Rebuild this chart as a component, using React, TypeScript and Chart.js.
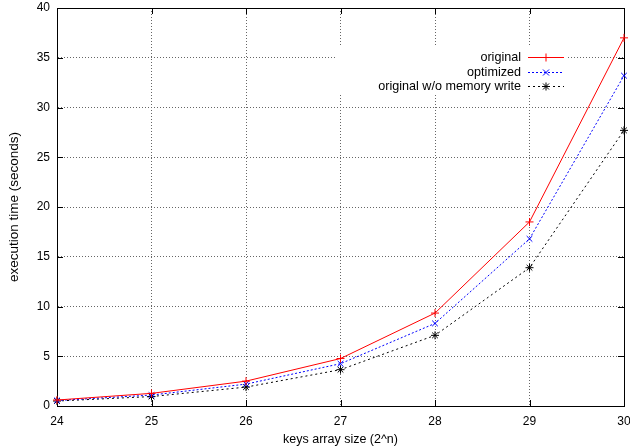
import React, { useEffect, useRef } from "react";
import { Chart, registerables } from "chart.js";

Chart.register(...registerables);

const xValues = [24, 25, 26, 27, 28, 29, 30];
const original = [0.6, 1.27, 2.5, 4.77, 9.34, 18.5, 37.0];
const optimized = [0.55, 1.1, 2.2, 4.25, 8.3, 16.8, 33.2];
const noWrite = [0.5, 0.95, 1.9, 3.65, 7.1, 13.9, 27.7];
const seriesNames = ["original", "optimized", "original w/o memory write"];
const xTicks = [24, 25, 26, 27, 28, 29, 30];
const yTicks = [0, 5, 10, 15, 20, 25, 30, 35, 40];

const FONT = "'Liberation Sans', Arial, sans-serif";

const styles = [
  { color: "#ff0000", dash: [] as number[], point: "cross" },
  { color: "#0000ff", dash: [2, 2], point: "crossRot" },
  { color: "#000000", dash: [2, 3], point: "star" },
];

const gnuplotPlugin = {
  id: "gnuplotDecor",
  beforeDatasetsDraw(chart: any) {
    const { ctx, chartArea: a, scales } = chart;
    const xs = scales.x;
    const ys = scales.y;
    ctx.save();
    // legend background
    ctx.fillStyle = "#fff";
    ctx.fillRect(335, 47, 233, 48);
    ctx.strokeStyle = "#000";
    ctx.lineWidth = 1;
    ctx.setLineDash([]);
    // box
    ctx.strokeRect(Math.round(a.left) + 0.5, Math.round(a.top) + 0.5, Math.round(a.right - a.left), Math.round(a.bottom - a.top));
    const L = 6;
    for (const t of xTicks) {
      const px = Math.round(xs.getPixelForValue(t)) + 0.5;
      ctx.beginPath();
      ctx.moveTo(px, a.bottom);
      ctx.lineTo(px, a.bottom - L);
      ctx.moveTo(px, a.top);
      ctx.lineTo(px, a.top + L);
      ctx.stroke();
    }
    for (const t of yTicks) {
      const py = Math.round(ys.getPixelForValue(t)) + 0.5;
      ctx.beginPath();
      ctx.moveTo(a.left, py);
      ctx.lineTo(a.left + L, py);
      ctx.moveTo(a.right, py);
      ctx.lineTo(a.right - L, py);
      ctx.stroke();
    }
    ctx.restore();
  },
  afterDatasetsDraw(chart: any) {
    const { ctx } = chart;
    ctx.save();
    ctx.font = "12.6px " + FONT;
    ctx.textAlign = "right";
    ctx.textBaseline = "middle";
    const rows = [57, 72, 86];
    seriesNames.forEach((name, i) => {
      const y = rows[i] + 0.5;
      const s = styles[i];
      ctx.fillStyle = "#000";
      ctx.fillText(name, 521, y);
      ctx.strokeStyle = s.color;
      ctx.lineWidth = 1;
      ctx.setLineDash(s.dash);
      ctx.beginPath();
      ctx.moveTo(528, y);
      ctx.lineTo(564, y);
      ctx.stroke();
      ctx.setLineDash([]);
      const cx = 546;
      const r = 4;
      ctx.beginPath();
      if (s.point === "cross" || s.point === "star") {
        ctx.moveTo(cx - r, y);
        ctx.lineTo(cx + r, y);
        ctx.moveTo(cx, y - r);
        ctx.lineTo(cx, y + r);
      }
      if (s.point === "crossRot" || s.point === "star") {
        const d = r * 0.75;
        ctx.moveTo(cx - d, y - d);
        ctx.lineTo(cx + d, y + d);
        ctx.moveTo(cx - d, y + d);
        ctx.lineTo(cx + d, y - d);
      }
      ctx.stroke();
    });
    ctx.restore();
  },
};

const noPad = (s: any) => {
  s.paddingTop = 0;
  s.paddingBottom = 0;
  s.paddingLeft = 0;
  s.paddingRight = 0;
};

export default function App() {
  const ref = useRef<HTMLCanvasElement>(null);
  useEffect(() => {
    document.body.style.margin = "0";
    const sets = [original, optimized, noWrite].map((vals, i) => ({
      label: seriesNames[i],
      data: xValues.map((x, j) => ({ x, y: vals[j] })),
      borderColor: styles[i].color,
      backgroundColor: styles[i].color,
      borderWidth: 1,
      borderDash: styles[i].dash,
      pointStyle: styles[i].point,
      pointRadius: 4,
      pointBorderWidth: 1,
      pointBorderColor: styles[i].color,
      tension: 0,
      fill: false,
      clip: false as any,
    }));
    const chart = new Chart(ref.current!, {
      type: "line",
      data: { datasets: sets as any },
      plugins: [gnuplotPlugin],
      options: {
        animation: false,
        responsive: false,
        maintainAspectRatio: false,
        layout: { padding: { top: 8, right: 6, left: 0, bottom: 0 } },
        plugins: { legend: { display: false }, tooltip: { enabled: false } },
        scales: {
          x: {
            type: "linear",
            min: 24,
            max: 30,
            afterBuildTicks: (s: any) => {
              s.ticks = xTicks.map((v) => ({ value: v }));
            },
            afterFit: (s: any) => {
              s.height = 41;
              noPad(s);
            },
            ticks: {
              color: "#000",
              font: { family: FONT, size: 12 },
              padding: 8,
              maxRotation: 0,
            },
            grid: {
              color: "#666",
              tickLength: 0,
              drawTicks: false,
            },
            border: { display: true, color: "#000", width: 1, dash: [1, 2] },
            title: {
              display: true,
              text: "keys array size (2^n)",
              color: "#000",
              font: { family: FONT, size: 12.5 },
              padding: { top: 4, bottom: 0 },
            },
          },
          y: {
            type: "linear",
            min: 0,
            max: 40,
            afterBuildTicks: (s: any) => {
              s.ticks = yTicks.map((v) => ({ value: v }));
            },
            afterFit: (s: any) => {
              s.width = 57;
              noPad(s);
            },
            ticks: {
              color: "#000",
              font: { family: FONT, size: 12 },
              padding: 7,
            },
            grid: {
              color: "#666",
              tickLength: 0,
              drawTicks: false,
            },
            border: { display: true, color: "#000", width: 1, dash: [1, 2] },
            title: {
              display: true,
              text: "execution time (seconds)",
              color: "#000",
              font: { family: FONT, size: 13.5 },
              padding: { top: 6, bottom: 0 },
            },
          },
        },
      },
    });
    return () => chart.destroy();
  }, []);
  return (
    <div style={{ position: "relative", width: 630, height: 447 }}>
      <canvas ref={ref} width={630} height={447} style={{ display: "block" }} />
    </div>
  );
}
